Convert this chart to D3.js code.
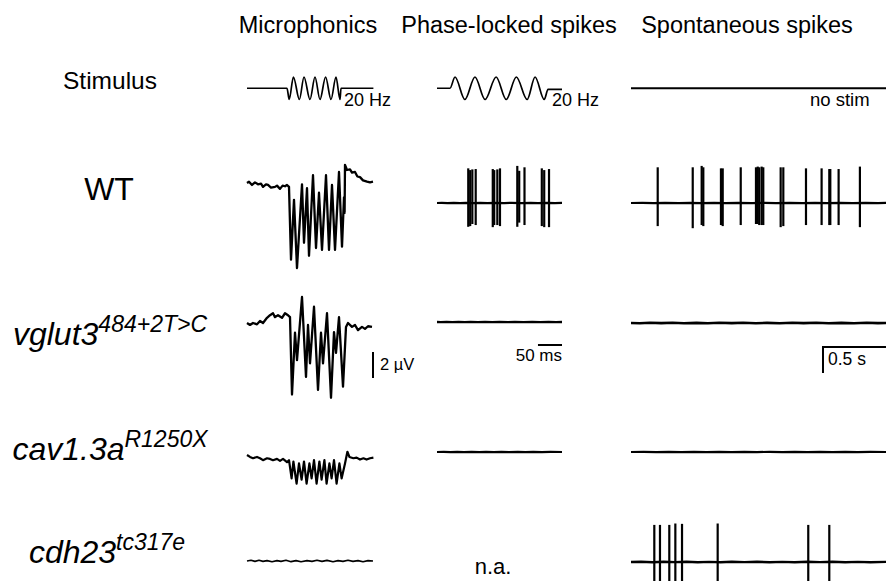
<!DOCTYPE html>
<html>
<head>
<meta charset="utf-8">
<script src="https://cdn.jsdelivr.net/npm/d3@7"></script>
<style>
  html, body { margin: 0; padding: 0; background: #fff; }
  svg { display: block; font-family: "Liberation Sans", Arial, sans-serif; }
</style>
</head>
<body>
<svg id="fig" width="886" height="581"></svg>
<script>
// ---- labels ----
const columnTitles = ["Microphonics", "Phase-locked spikes", "Spontaneous spikes"];
const rowLabels = [
  { name: "Stimulus", sup: "", italic: false },
  { name: "WT", sup: "", italic: false },
  { name: "vglut3", sup: "484+2T>C", italic: true },
  { name: "cav1.3a", sup: "R1250X", italic: true },
  { name: "cdh23", sup: "tc317e", italic: true }
];

// ---- stimulus (time ms, normalised amplitude) ----
const stimMic = [[0,0],[200,0],[211,-1],[232,1],[262,-1],[285,1],[315,-1],[340,1],[365,-1],[393,1],[420,-1],[445,1],[465,-1],[470,0],[632,0]];
const stimPhase = [[0,0],[27,0],[37.5,1],[58,-1],[79,1],[100,-1],[123,1],[144,-1],[165,1],[187.5,-1],[204,1],[223,-1],[231,-0.1],[260,-0.1]];
const stimSpont = [[0,0],[2040,0]];

// ---- microphonics (time ms, µV) ----
const micWT = [[0,0],[10,0.1],[25,-0.15],[40,0.05],[55,-0.1],[70,-0.05],[80,-0.3],[95,-0.1],[105,-0.15],[120,-0.35],[140,-0.3],[150,-0.2],[165,-0.45],[178,-0.2],[190,-0.25],[200,-0.15],[210,-0.3],
  [220,-5.9],[235,-1.3],[250,-6.55],[275,-0.1],[285,-4.6],[300,-0.4],[310,-5.6],[330,0.6],[345,-5.0],[360,-0.75],[375,-5.15],[395,0.6],[410,-5.15],[425,-0.15],[440,-5.15],[460,0.85],[475,-4.9],[485,-1.1],[488,-2.3],
  [490,1.4],[500,1.0],[515,1.05],[525,0.8],[540,0.85],[552,0.5],[565,0.45],[580,0.2],[600,0.1],[615,0.05],[630,0.1]];
const micVglut = [[0,0],[15,-0.15],[30,0],[50,-0.1],[65,0.15],[80,0],[100,0.4],[115,0.6],[130,0.75],[140,0.45],[155,0.6],[175,0.4],[190,0.75],[205,0.6],[215,0.45],
  [225,-5.5],[240,-0.75],[250,-2.85],[275,2.0],[295,-4.15],[305,-0.15],[315,-3.1],[335,1.25],[355,-5.15],[370,-0.75],[380,-3.1],[400,0.75],[420,-5.75],[435,-0.7],[445,-2.3],[460,0.45],[480,-4.9],[495,-0.3],
  [505,0],[525,-0.3],[540,-0.15],[555,-0.55],[575,-0.3],[590,-0.45],[605,-0.25],[625,-0.3]];
const micCav = [[0,0],[15,-0.15],[30,-0.25],[50,-0.15],[65,-0.25],[80,-0.4],[100,-0.25],[115,-0.3],[130,-0.4],[150,-0.3],[165,-0.45],[180,-0.3],[200,-0.55],[210,-0.4],
  [223,-1.8],[232,-0.5],[248,-2.2],[260,-0.65],[273,-1.9],[285,-0.5],[298,-2.2],[312,-0.65],[323,-1.8],[335,-0.4],[348,-2.2],[362,-0.5],[373,-1.9],[387,-0.4],[398,-2.2],[412,-0.65],[423,-1.8],[435,-0.4],[448,-2.2],[462,-0.65],[473,-1.8],[490,-0.65],
  [502,0.25],[512,-0.15],[532,-0.25],[548,-0.2],[565,-0.35],[582,-0.25],[598,-0.35],[615,-0.25],[632,-0.2]];
const micCdh = [[0,0],[20,0.06],[40,-0.03],[60,0.05],[80,-0.03],[100,0.03],[125,-0.06],[150,0.03],[170,-0.03],[195,0.06],[220,-0.05],[245,0.03],[270,-0.06],[300,0.03],[325,-0.03],[350,0.06],[375,-0.03],[400,0.05],[430,-0.06],[455,0.03],[480,-0.03],[505,0.06],[530,-0.03],[555,0.03],[580,-0.06],[605,0.03],[630,0]];

// ---- phase-locked recordings (time ms, a.u.) ----
const phWTBase = [[0,0],[10,0.006],[22,-0.004],[35,0.006],[48,-0.006],[60,0.004],[75,-0.004],[90,0.006],[105,-0.006],[120,0.004],[140,-0.004],[155,0.006],[175,-0.006],[195,0.004],[210,-0.004],[230,0.006],[245,-0.004],[260,0.004]];
const phWTSpikes = [[65,0.99,-0.68],[69,0.94,-0.66],[73.5,0.96,-0.6],[80.5,0.97,-0.63],[116,0.97,-0.69],[119,0.94,-0.63],[125.5,0.96,-0.63],[131,0.99,-0.66],
  [167,1.06,-0.68],[171,0.92,-0.56],[182,1.02,-0.63],[218,0.99,-0.66],[223,0.94,-0.69],[233,0.97,-0.69]];
const phVglutBase = [[0,0],[8,-0.006],[20,0.004],[32,-0.004],[45,0.006],[58,-0.006],[70,0.006],[85,-0.004],[100,0.006],[115,-0.006],[130,0.004],[148,-0.006],[162,0.006],[180,-0.004],[198,0.006],[215,-0.006],[232,0.004],[248,-0.004],[260,0]];
const phCavBase = [[0,0],[14,0.004],[28,-0.006],[42,0.004],[56,-0.004],[72,0.006],[88,-0.004],[102,0.004],[118,-0.006],[134,0.004],[150,-0.004],[168,0.006],[184,-0.004],[200,0.004],[218,-0.006],[236,0.004],[260,0]];

// ---- spontaneous recordings (time ms, a.u.) ----
const spWTBase = [[0,0],[90,0.006],[180,-0.006],[270,0.004],[380,-0.004],[470,0.006],[560,-0.006],[660,0.004],[750,-0.004],[850,0.006],[960,-0.006],[1060,0.004],[1150,-0.004],[1260,0.006],[1360,-0.004],[1460,0.004],[1560,-0.006],[1660,0.006],[1760,-0.004],[1860,0.004],[1960,-0.006],[2040,0.004]];
const spWTSpikes = [[212,1.02,-0.66],[490,1.02,-0.72],[561,1.06,-0.63],[574,1.02,-0.66],[714,0.99,-0.63],[728,0.99,-0.66],[871,1.02,-0.63],
  [992,1.02,-0.6],[1006,1.04,-0.6],[1018,1.02,-0.63],[1037,1.04,-0.63],[1050,1.02,-0.63],[1188,1.02,-0.69],[1209,1.02,-0.66],
  [1389,0.99,-0.63],[1513,0.99,-0.63],[1574,0.97,-0.63],[1582,0.97,-0.63],[1648,0.97,-0.63],[1817,1.04,-0.69]];
const spVglutBase = [[0,0],[70,-0.006],[150,0.006],[240,-0.004],[330,0.006],[420,-0.006],[520,0.004],[610,-0.006],[700,0.006],[800,-0.004],[890,0.006],[990,-0.006],[1080,0.004],[1180,-0.006],[1280,0.006],[1370,-0.004],[1470,0.006],[1570,-0.006],[1670,0.004],[1770,-0.006],[1870,0.006],[1960,-0.004],[2040,0]];
const spCavBase = [[0,0],[100,0.004],[200,-0.006],[300,0.004],[400,-0.004],[500,0.006],[600,-0.004],[700,0.004],[800,-0.006],[900,0.004],[1000,-0.004],[1100,0.006],[1200,-0.004],[1300,0.004],[1400,-0.006],[1500,0.004],[1600,-0.004],[1700,0.006],[1800,-0.004],[1900,0.004],[2040,0]];
const spCdhBase = [[0,0],[80,0.006],[170,-0.006],[260,0.006],[350,-0.004],[440,0.006],[530,-0.006],[620,0.004],[710,-0.006],[800,0.006],[900,-0.004],[1000,0.006],[1100,-0.006],[1200,0.004],[1300,-0.006],[1400,0.006],[1500,-0.004],[1600,0.006],[1700,-0.006],[1800,0.004],[1900,-0.006],[2040,0.004]];
const spCdhSpikes = [[185,1.06,-1.2],[230,1.06,-1.2],[304,1.06,-1.2],[352,1.1,-1.2],[405,1.09,-1.2],[688,1.1,-1.2],[1407,1.06,-1.2],[1574,1.06,-1.2]];

// ---- scale bars ----
const micBarUV = 2;       // µV
const phaseBarMs = 50;    // ms
const spontBarMs = 500;   // ms

// ===== layout =====
const svg = d3.select("#fig");
const g = svg.append("g");

const micX = d3.scaleLinear().domain([0, 635]).range([247, 374]);
const phX = d3.scaleLinear().domain([0, 260]).range([437, 562]);
const spX = d3.scaleLinear().domain([0, 2040]).range([631, 888]);

const stimY = d3.scaleLinear().domain([-1, 1]).range([99.5, 77]);
const micY = base => d3.scaleLinear().domain([0, 1]).range([base, base - 13]);
const spkY = base => d3.scaleLinear().domain([-1, 1]).range([base + 35, base - 35]);

function trace(data, x, y, opts = {}) {
  const line = d3.line().x(d => x(d[0])).y(d => y(d[1]));
  if (opts.curve) line.curve(opts.curve);
  g.append("path")
    .attr("d", line(data))
    .attr("fill", "none")
    .attr("stroke", "#000")
    .attr("stroke-width", opts.width || 2)
    .attr("stroke-linejoin", "round");
}

function spikes(data, x, y) {
  g.append("g")
    .selectAll("line")
    .data(data)
    .join("line")
    .attr("x1", d => x(d[0]))
    .attr("x2", d => x(d[0]))
    .attr("y1", d => y(d[1]))
    .attr("y2", d => y(d[2]))
    .attr("stroke", "#000")
    .attr("stroke-width", 2.2);
}

function label(text, x, y, size, anchor = "start") {
  g.append("text")
    .attr("x", x).attr("y", y)
    .attr("font-size", size)
    .attr("text-anchor", anchor)
    .attr("fill", "#000")
    .text(text);
}

// column headers
const colCenters = [308, 509, 747];
columnTitles.forEach((t, i) => label(t, colCenters[i], 33, 23.5, "middle"));

// row labels
const rowLabelPos = [[110, 89, 24.5], [109, 200, 32], [110, 345, 32], [110, 460, 32], [107, 563, 32]];
rowLabels.forEach((r, i) => {
  const [x, y, size] = rowLabelPos[i];
  const t = g.append("text")
    .attr("x", x).attr("y", y)
    .attr("font-size", size)
    .attr("text-anchor", "middle")
    .attr("font-style", r.italic ? "italic" : "normal");
  t.append("tspan").text(r.name);
  if (r.sup) t.append("tspan").attr("dy", -13).attr("font-size", 23).text(r.sup);
});

// stimulus row
const catmull = d3.curveCatmullRom.alpha(0.5);
trace(stimMic, micX, stimY, { curve: d3.curveMonotoneX, width: 1.7 });
trace(stimPhase, phX, stimY, { curve: d3.curveMonotoneX, width: 1.7 });
trace(stimSpont, spX, stimY, { width: 1.8 });
label("20 Hz", 344, 106, 18);
label("20 Hz", 552, 106, 18);
label("no stim", 810, 106, 18.5);

// microphonics
trace(micWT, micX, micY(183), { width: 2.3 });
trace(micVglut, micX, micY(323), { width: 2.3 });
trace(micCav, micX, micY(455), { width: 2.2 });
trace(micCdh, micX, micY(561), { width: 1.6 });

// phase-locked
trace(phWTBase, phX, spkY(203), { width: 2.2 });
spikes(phWTSpikes, phX, spkY(203));
trace(phVglutBase, phX, spkY(322), { width: 2.3 });
trace(phCavBase, phX, spkY(452), { width: 2.2 });
label("n.a.", 493, 574, 22, "middle");

// spontaneous
trace(spWTBase, spX, spkY(203), { width: 2.2 });
spikes(spWTSpikes, spX, spkY(203));
trace(spVglutBase, spX, spkY(323), { width: 2.6 });
trace(spCavBase, spX, spkY(452), { width: 2.2 });
trace(spCdhBase, spX, spkY(562), { width: 2.4 });
spikes(spCdhSpikes, spX, spkY(562));

// scale bars
const barY = micY(378);
g.append("line")
  .attr("x1", micX(630)).attr("x2", micX(630))
  .attr("y1", barY(0)).attr("y2", barY(micBarUV))
  .attr("stroke", "#000").attr("stroke-width", 2);
label("2 \u00B5V", 380, 370, 16.5);

g.append("line")
  .attr("x1", phX(260 - phaseBarMs)).attr("x2", phX(260))
  .attr("y1", 345).attr("y2", 345)
  .attr("stroke", "#000").attr("stroke-width", 2);
label("50 ms", 562, 361, 17, "end");

const sb0 = 1524;
g.append("path")
  .attr("d", `M${spX(sb0)},373 V347 H${spX(sb0 + spontBarMs)}`)
  .attr("fill", "none").attr("stroke", "#000").attr("stroke-width", 2);
label("0.5 s", 828, 365, 17.5);
</script>
</body>
</html>
